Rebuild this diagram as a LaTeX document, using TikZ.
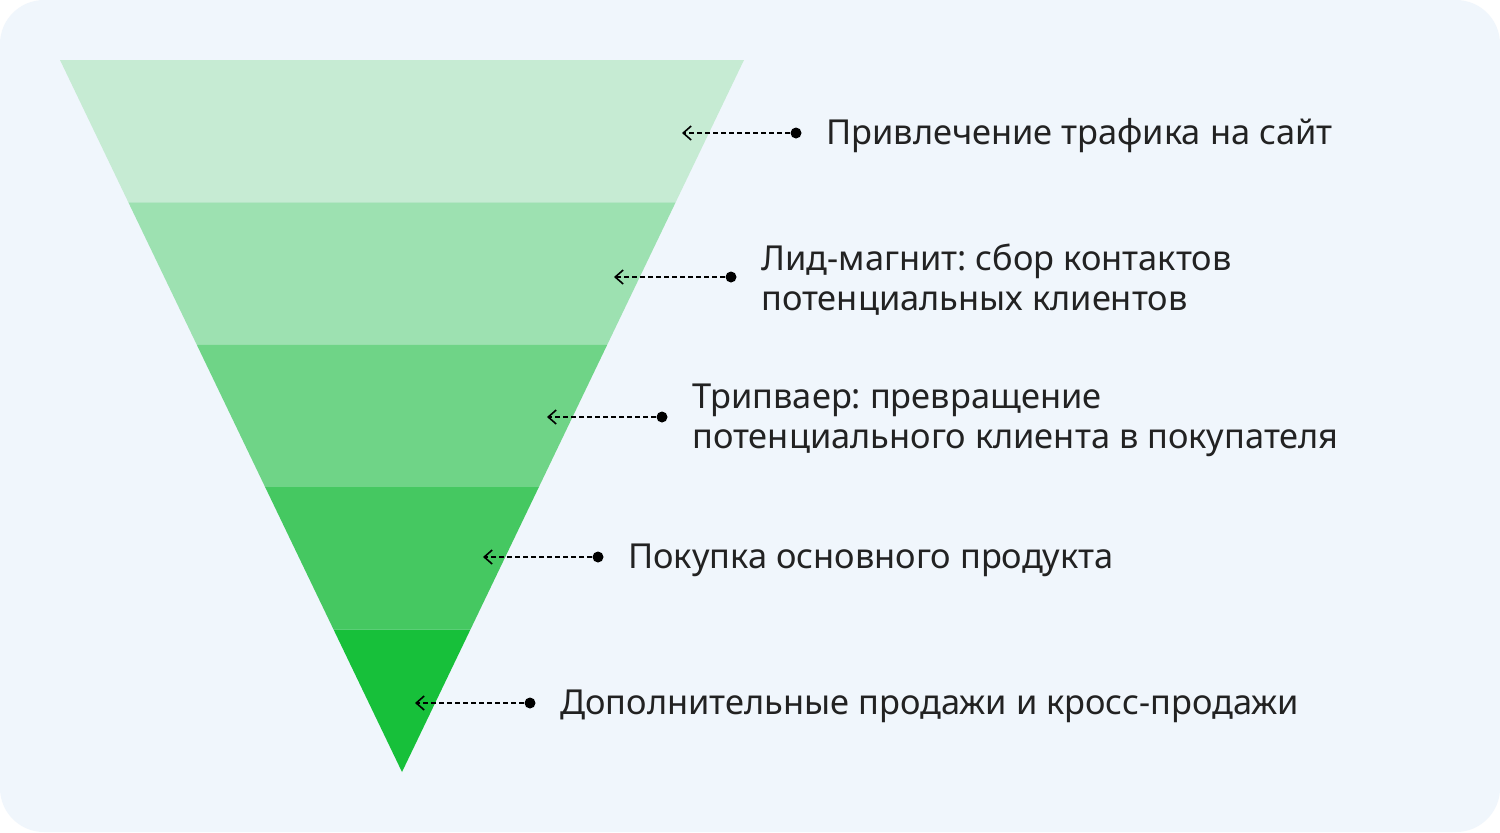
\documentclass[tikz,border=0pt]{standalone}
\usepackage{fontspec}
\setmainfont{Noto Sans}
\usepackage{tikz}
\usetikzlibrary{arrows.meta,positioning}

\definecolor{bgblue}{HTML}{F0F6FC}
\definecolor{band1}{HTML}{C6EBD3}
\definecolor{band2}{HTML}{9DE1B1}
\definecolor{band3}{HTML}{6FD487}
\definecolor{band4}{HTML}{45C861}
\definecolor{band5}{HTML}{17C03A}
\definecolor{ink}{HTML}{222222}

\frenchspacing
\begin{document}
\begin{tikzpicture}[x=0.5pt,y=-0.5pt,node distance=12pt]
\tikzstyle{dot} = [circle,fill=black,inner sep=0pt,minimum size=5.5pt]
\tikzstyle{leader} = [-{Straight Barb[length=4pt,width=7pt]},line width=0.8pt,dash pattern=on 2.5pt off 1.5pt]
\tikzstyle{stage} = [text=ink,font=\fontsize{17.2}{20}\selectfont,align=left,inner sep=0pt,yshift=-1.5pt]
    % page and card
    \fill[white] (0,0) rectangle (1500,832);
    \useasboundingbox (0,0) rectangle (1500,832);
    \fill[bgblue,rounded corners=22pt] (0,0) rectangle (1500,832);
    % funnel bands
    \foreach \i/\col in {0/band1,1/band2,2/band3,3/band4,4/band5}
        \fill[\col] ({60+68.4*\i},{60+142.4*\i}) -- ({744-68.4*\i},{60+142.4*\i})
            -- ({744-68.4*(\i+1)},{60+142.4*(\i+1)}) -- ({60+68.4*(\i+1)},{60+142.4*(\i+1)}) -- cycle;

    \node[dot] (d1) at (796,133) {};
    \node[dot] (d2) at (731,277) {};
    \node[dot] (d3) at (662,417) {};
    \node[dot] (d4) at (598,557) {};
    \node[dot] (d5) at (530,703) {};
    \coordinate (t1) at (682,133);
    \coordinate (t2) at (614,277);
    \coordinate (t3) at (547,417);
    \coordinate (t4) at (483,557);
    \coordinate (t5) at (415,703);

    \node[stage] (s1) [right =of d1] {Привлечение трафика на сайт};
    \node[stage] (s2) [right =of d2] {Лид-магнит: сбор контактов\\потенциальных клиентов};
    \node[stage] (s3) [right =of d3] {Трипваер: превращение\\потенциального клиента в покупателя};
    \node[stage] (s4) [right =of d4] {Покупка основного продукта};
    \node[stage] (s5) [right =of d5] {Дополнительные продажи и кросс-продажи};

    \foreach \n in {1,...,5}
        \draw[leader] (d\n) -- (t\n);
\end{tikzpicture}
\end{document}
